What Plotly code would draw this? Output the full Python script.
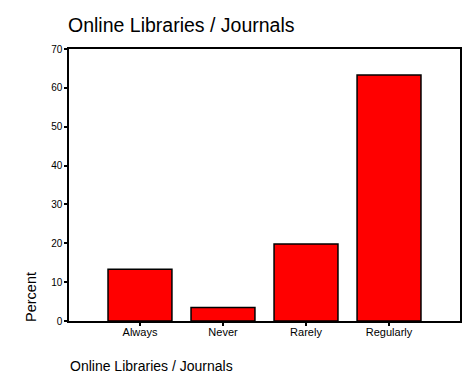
import plotly.graph_objects as go

categories = ["Always", "Never", "Rarely", "Regularly"]
percent = [13.3, 3.5, 19.8, 63.3]
y_ticks = [0, 10, 20, 30, 40, 50, 60, 70]

fig = go.Figure(go.Bar(
    x=categories, y=percent,
    marker=dict(color="#ff0000", line=dict(color="black", width=1.5)),
    width=0.77,
))

# page body has an 8px margin, so the figure is 8px smaller and shifted
W, H = 468, 381
font = "Liberation Sans, Arial, sans-serif"
fig.update_layout(
    width=W, height=H,
    margin=dict(l=61, r=16, t=41, b=68),
    paper_bgcolor="white", plot_bgcolor="white",
    showlegend=False,
    font=dict(family=font, color="black", size=10),
    title=dict(text="Online Libraries / Journals", x=(68-8)/W, xanchor="left",
               y=1-(25.5-8)/H, yanchor="middle", font=dict(size=19.5, family=font, color="black")),
    xaxis=dict(range=[-0.855, 3.855], showline=True, linecolor="black", linewidth=1.5,
               mirror=True, ticks="outside", ticklen=3, tickwidth=2, tickcolor="black",
               showgrid=False, tickfont=dict(size=11), ticklabelstandoff=-3),
    yaxis=dict(range=[0, 70], tickvals=y_ticks, showline=True, linecolor="black", linewidth=1.5,
               mirror=True, ticks="outside", ticklen=3, tickwidth=2, tickcolor="black",
               showgrid=False, zeroline=False, tickfont=dict(size=10)),
    annotations=[
        dict(text="Percent", xref="paper", yref="paper", x=(31-69)/391, y=-3/272,
             xanchor="center", yanchor="bottom", textangle=-90, showarrow=False,
             font=dict(size=14.5, family=font, color="black")),
        dict(text="Online Libraries / Journals", xref="paper", yref="paper",
             x=(68-69)/391, y=(321-366)/272, xanchor="left", yanchor="middle",
             showarrow=False, font=dict(size=14, family=font, color="black")),
    ],
)

fig.write_html("out.html")
